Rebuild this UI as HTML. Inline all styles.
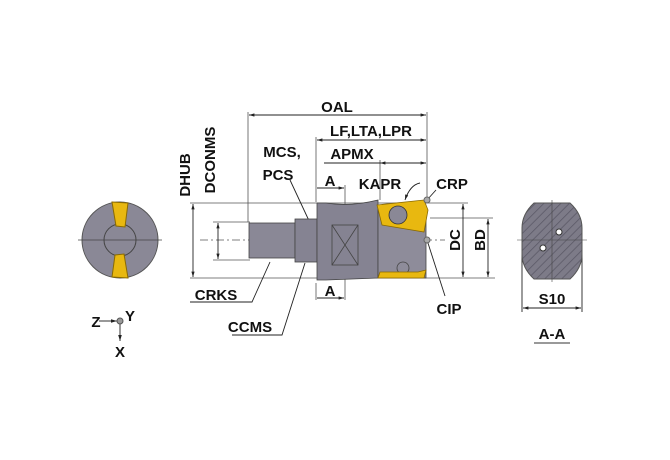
<!DOCTYPE html>
<html><head><meta charset="utf-8"><style>
html,body{margin:0;padding:0;background:#fff;width:670px;height:460px;overflow:hidden}
svg text{font-family:"Liberation Sans",Arial,sans-serif;font-weight:bold;font-size:15px;fill:#111}
</style></head><body>
<svg width="670" height="460" viewBox="0 0 670 460" xmlns="http://www.w3.org/2000/svg">
<defs>
<marker id="ar" viewBox="0 0 10 10" refX="10" refY="5" markerWidth="6" markerHeight="6" orient="auto-start-reverse"><path d="M0,2 L10,5 L0,8z" fill="#222"/></marker>
<pattern id="hatch" width="6" height="6" patternUnits="userSpaceOnUse" patternTransform="rotate(45)"><rect width="6" height="6" fill="#7d7b88"/><line x1="0" y1="0" x2="0" y2="6" stroke="#5a5866" stroke-width="1.5"/></pattern>
</defs>
<g stroke="#555" stroke-width="0.8" fill="none">
<line x1="248" y1="112" x2="248" y2="222"/>
<line x1="427" y1="112" x2="427" y2="200"/>
<line x1="316" y1="137" x2="316" y2="202"/>
<line x1="345" y1="185" x2="345" y2="300"/>
<line x1="380" y1="160" x2="380" y2="200"/>
<line x1="316" y1="283" x2="316" y2="300"/>
<line x1="190" y1="203" x2="468" y2="203"/>
<line x1="190" y1="278" x2="495" y2="278"/>
<line x1="213" y1="222" x2="250" y2="222"/>
<line x1="213" y1="260" x2="250" y2="260"/>
<line x1="430" y1="218" x2="493" y2="218"/>
<line x1="200" y1="240" x2="445" y2="240" stroke-dasharray="8,3,2,3"/>
</g>
<g stroke="#222" stroke-width="0.9" fill="none">
<line x1="249" y1="115" x2="426" y2="115" marker-start="url(#ar)" marker-end="url(#ar)"/>
<line x1="317" y1="140" x2="426" y2="140" marker-start="url(#ar)" marker-end="url(#ar)"/>
<line x1="324" y1="163" x2="426" y2="163" marker-end="url(#ar)"/>
<line x1="380" y1="163" x2="426" y2="163" marker-start="url(#ar)"/>
<line x1="317" y1="188" x2="344" y2="188" marker-end="url(#ar)"/>
<line x1="317" y1="298" x2="344" y2="298" marker-end="url(#ar)"/>
<line x1="193" y1="204" x2="193" y2="277" marker-start="url(#ar)" marker-end="url(#ar)"/>
<line x1="218" y1="223" x2="218" y2="259" marker-start="url(#ar)" marker-end="url(#ar)"/>
<line x1="463" y1="204" x2="463" y2="277" marker-start="url(#ar)" marker-end="url(#ar)"/>
<line x1="488" y1="219" x2="488" y2="277" marker-start="url(#ar)" marker-end="url(#ar)"/>
<line x1="523" y1="308" x2="581" y2="308" marker-start="url(#ar)" marker-end="url(#ar)"/>
<line x1="522" y1="250" x2="522" y2="312"/><line x1="582" y1="250" x2="582" y2="312"/>
<polyline points="270,262 252,302 190,302"/>
<polyline points="305,263 282,335 232,335"/>
<line x1="290" y1="180" x2="318" y2="240"/>
<line x1="427" y1="240" x2="445" y2="296"/>
<line x1="427" y1="200" x2="436" y2="190"/>
<path d="M405,200 Q410,185 420,183" marker-start="url(#ar)"/>
</g>
<g stroke="#444" stroke-width="0.8">
<rect x="249" y="223" width="46" height="35" fill="#8a8896"/>
<rect x="295" y="219" width="22" height="43" fill="#858392"/>
<path d="M317,203 L326,203 Q350,207 378,200 L378,278 L326,280 L317,280 Z" fill="#858392"/>
<rect x="378" y="205" width="48" height="73" fill="#8e8c9a"/>
<rect x="332" y="225" width="26" height="40" fill="#858392"/>
<path d="M332,225 L358,265 M358,225 L332,265" fill="none"/>
<circle cx="403" cy="268" r="6" fill="none"/>
<path d="M377,205 L424,200 L428,210 L424,232 L382,225 Z" fill="#e8b810" stroke="#8a6a00"/>
<circle cx="398" cy="215" r="9" fill="#8a8896" stroke="#333"/>
<path d="M378,278 L424,278 L426,270 L418,272 L380,272 Z" fill="#e8b810" stroke="#8a6a00"/>
</g>
<circle cx="427" cy="200" r="3" fill="#aaa" stroke="#666"/>
<circle cx="427" cy="240" r="3" fill="#aaa" stroke="#666"/>
<circle cx="120" cy="240" r="38" fill="#8a8896" stroke="#555"/>
<circle cx="120" cy="240" r="16" fill="none" stroke="#444"/>
<path d="M112,202 L128,203 L125,227 L116,226Z M112,277 L128,278 L124,254 L115,255Z" fill="#e8b810" stroke="#8a6a00"/>
<line x1="78" y1="240" x2="162" y2="240" stroke="#444" stroke-width="0.7"/>
<path d="M534,203 L570,203 Q582,214 582,228 L582,254 Q582,268 570,279 L534,279 Q522,268 522,254 L522,228 Q522,214 534,203Z" fill="url(#hatch)" stroke="#555"/>
<line x1="552" y1="200" x2="552" y2="282" stroke="#444" stroke-width="0.6"/>
<line x1="517" y1="240" x2="587" y2="240" stroke="#444" stroke-width="0.6"/>
<circle cx="559" cy="232" r="3" fill="#fff" stroke="#333"/>
<circle cx="543" cy="248" r="3" fill="#fff" stroke="#333"/>
<line x1="99" y1="321" x2="117" y2="321" stroke="#333" marker-end="url(#ar)"/>
<line x1="120" y1="324" x2="120" y2="341" stroke="#333" marker-end="url(#ar)"/>
<circle cx="120" cy="321" r="3" fill="#999" stroke="#555"/>
<text x="337" y="112" text-anchor="middle">OAL</text>
<text x="371" y="136" text-anchor="middle">LF,LTA,LPR</text>
<text x="352" y="159" text-anchor="middle">APMX</text>
<text x="330" y="186" text-anchor="middle">A</text>
<text x="330" y="296" text-anchor="middle">A</text>
<text x="380" y="189" text-anchor="middle">KAPR</text>
<text x="452" y="189" text-anchor="middle">CRP</text>
<text x="282" y="157" text-anchor="middle">MCS,</text>
<text x="278" y="180" text-anchor="middle">PCS</text>
<text x="216" y="300" text-anchor="middle">CRKS</text>
<text x="250" y="332" text-anchor="middle">CCMS</text>
<text x="449" y="314" text-anchor="middle">CIP</text>
<text x="552" y="304" text-anchor="middle">S10</text>
<text x="552" y="339" text-anchor="middle">A-A</text>
<line x1="534" y1="343" x2="570" y2="343" stroke="#333"/>
<text x="96" y="327" text-anchor="middle">Z</text>
<text x="130" y="321" text-anchor="middle">Y</text>
<text x="120" y="357" text-anchor="middle">X</text>
<text transform="translate(190,175) rotate(-90)" text-anchor="middle">DHUB</text>
<text transform="translate(215,160) rotate(-90)" text-anchor="middle">DCONMS</text>
<text transform="translate(460,240) rotate(-90)" text-anchor="middle">DC</text>
<text transform="translate(485,240) rotate(-90)" text-anchor="middle">BD</text>
</svg>
</body></html>
